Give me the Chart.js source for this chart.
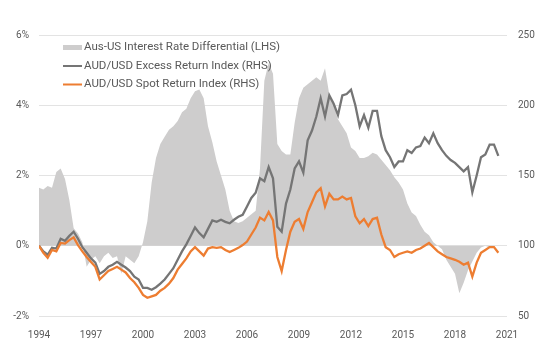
<!DOCTYPE html>
<html lang="en">
<head>
    <meta charset="UTF-8">
    <title>AUD/USD carry</title>
    <script src="https://cdn.jsdelivr.net/npm/chart.js"></script>
    <style>
        html, body { margin: 0; padding: 0; background: #fff; }
    </style>
</head>
<body>
    <canvas id="audChart" width="555" height="354"></canvas>

    <script>
        // quarterly dates (decimal years)
        const dates = [
            1994.00, 1994.25, 1994.50, 1994.75, 1995.00, 1995.25, 1995.50, 1995.75,
            1996.00, 1996.25, 1996.50, 1996.75, 1997.00, 1997.25, 1997.50, 1997.75,
            1998.00, 1998.25, 1998.50, 1998.75, 1999.00, 1999.25, 1999.50, 1999.75,
            2000.00, 2000.25, 2000.50, 2000.75, 2001.00, 2001.25, 2001.50, 2001.75,
            2002.00, 2002.25, 2002.50, 2002.75, 2003.00, 2003.25, 2003.50, 2003.75,
            2004.00, 2004.25, 2004.50, 2004.75, 2005.00, 2005.25, 2005.50, 2005.75,
            2006.00, 2006.25, 2006.50, 2006.75, 2007.00, 2007.25, 2007.50, 2007.75,
            2008.00, 2008.25, 2008.50, 2008.75, 2009.00, 2009.25, 2009.50, 2009.75,
            2010.00, 2010.25, 2010.50, 2010.75, 2011.00, 2011.25, 2011.50, 2011.75,
            2012.00, 2012.25, 2012.50, 2012.75, 2013.00, 2013.25, 2013.50, 2013.75,
            2014.00, 2014.25, 2014.50, 2014.75, 2015.00, 2015.25, 2015.50, 2015.75,
            2016.00, 2016.25, 2016.50, 2016.75, 2017.00, 2017.25, 2017.50, 2017.75,
            2018.00, 2018.25, 2018.50, 2018.75, 2019.00, 2019.25, 2019.50, 2019.75,
            2020.00, 2020.25, 2020.50
        ];

        // Aus-US interest rate differential, % (LHS)
        const rateDiff = [
            1.65, 1.6, 1.7, 1.65, 2.1, 2.2, 1.9, 1.3,
            0.5, 0.35, 0.1, -0.6, -0.4, -0.3, -0.5, -0.3,
            -0.2, -0.35, -0.3, -0.8, -0.3, -0.4, -0.5, -0.3,
            0.1, 0.7, 1.8, 2.5, 2.9, 3.1, 3.3, 3.4,
            3.55, 3.8, 3.9, 4.2, 4.4, 4.45, 4.2, 3.4,
            2.95, 2.4, 2.0, 1.6, 1.0, 0.7, 0.65, 0.7,
            0.8, 0.9, 1.0, 2.2, 4.7, 5.2, 4.9, 2.9,
            2.7, 2.6, 2.6, 3.5, 4.2, 4.5, 4.6, 4.7,
            4.8, 4.7, 5.05, 4.3, 4.0, 3.6, 3.4, 3.2,
            2.8, 2.7, 2.5, 2.5, 2.55, 2.65, 2.6, 2.45,
            2.3, 2.15, 1.95, 1.8, 1.6, 1.2, 0.95, 0.85,
            0.6, 0.4, 0.3, 0.1, 0.0, -0.1, -0.4, -0.6,
            -0.8, -1.35, -1.05, -0.7, -0.45, -0.2, -0.05, 0.0,
            -0.05, 0.0, 0.0
        ];

        // AUD/USD excess return index (RHS)
        const excessReturn = [
            100, 96, 93.6, 98.5, 98, 105, 103.5, 107,
            110, 105, 99, 95, 91, 88, 80, 82,
            85, 86.5, 88.6, 86.5, 84.5, 82, 78, 76,
            70, 70, 68.7, 70.5, 73, 76, 80, 84,
            90, 96, 101, 107, 113, 109, 106, 112,
            118, 117, 118.5, 117, 116, 118.5, 120.6, 122,
            128, 134, 137.7, 148, 146, 156, 148, 113.5,
            110, 130, 140, 155, 160, 152, 175, 182,
            192, 205, 192, 207, 201, 193, 207, 208,
            211, 200, 185, 193, 184, 196, 196, 178,
            168, 163, 156, 160, 160, 168, 166, 170,
            171, 177, 173, 180, 173, 168, 164, 161,
            159, 156, 153, 156, 138, 150, 163, 165,
            172, 172, 164
        ];

        // AUD/USD spot return index (RHS)
        const spotReturn = [
            100, 95, 91.5, 97, 96, 102, 101.5, 104,
            106, 100.5, 96, 92, 88.5, 85, 76, 79,
            82, 83.5, 85, 83, 81, 77, 74, 70,
            65, 63, 64, 65, 68, 70, 73, 77,
            83, 87, 91, 96, 99, 96, 93, 98,
            99, 98.5, 99, 97, 95.5, 97, 98.5, 100.5,
            103, 108, 113, 120, 118, 124, 118, 92,
            82, 97, 110, 117, 119, 112, 124, 131,
            138, 141, 128, 137, 133, 133, 135, 133,
            134, 121, 116, 119, 114, 119, 120, 108,
            99, 97, 92, 94, 95, 96, 95, 97,
            98, 100, 102, 99, 96, 94, 92, 91,
            90, 88.6, 86.5, 88, 78, 88, 95, 97,
            99, 99, 95
        ];

        const yearTicks = [1994, 1997, 2000, 2003, 2006, 2009, 2012, 2015, 2018, 2021];

        const textColor = '#595959';
        const fontFamily = 'Roboto, "Liberation Sans", sans-serif';

        const toPoints = vals => vals.map((v, i) => ({ x: dates[i], y: v }));

        // legend drawn inside the plot, three rows at top left
        const insideLegend = {
            id: 'insideLegend',
            afterDraw(chart) {
                const ctx = chart.ctx;
                const x0 = 63, rowY = [47.5, 66, 84.5];
                ctx.save();
                ctx.font = '11.5px ' + fontFamily;
                ctx.textBaseline = 'middle';
                chart.data.datasets.forEach((ds, row) => {
                    const y = rowY[row];
                    if (ds.fill) {
                        ctx.fillStyle = ds.backgroundColor;
                        ctx.fillRect(x0, y - 2.5, 19, 5);
                    } else {
                        ctx.strokeStyle = ds.borderColor;
                        ctx.lineWidth = 2;
                        ctx.beginPath();
                        ctx.moveTo(x0, y);
                        ctx.lineTo(x0 + 19, y);
                        ctx.stroke();
                    }
                    ctx.fillStyle = textColor;
                    ctx.fillText(ds.label, x0 + 21, y);
                });
                ctx.restore();
            }
        };

        new Chart(document.getElementById('audChart').getContext('2d'), {
            type: 'line',
            data: {
                datasets: [
                    {
                        label: 'Aus-US Interest Rate Differential (LHS)',
                        data: toPoints(rateDiff),
                        yAxisID: 'y',
                        backgroundColor: '#cecdcd',
                        borderWidth: 0,
                        fill: 'origin',
                        pointRadius: 0,
                        order: 3
                    },
                    {
                        label: 'AUD/USD Excess Return Index (RHS)',
                        data: toPoints(excessReturn),
                        yAxisID: 'y1',
                        borderColor: '#757575',
                        borderWidth: 2.3,
                        fill: false,
                        pointRadius: 0,
                        order: 2
                    },
                    {
                        label: 'AUD/USD Spot Return Index (RHS)',
                        data: toPoints(spotReturn),
                        yAxisID: 'y1',
                        borderColor: '#ed7d31',
                        borderWidth: 2.3,
                        fill: false,
                        pointRadius: 0,
                        order: 1
                    }
                ]
            },
            options: {
                responsive: false,
                animation: false,
                layout: { padding: { top: 35, left: 0, right: 0, bottom: 0 } },
                plugins: {
                    legend: { display: false },
                    tooltip: { enabled: false }
                },
                scales: {
                    x: {
                        type: 'linear',
                        min: 1994,
                        max: 2021,
                        afterBuildTicks: axis => { axis.ticks = yearTicks.map(v => ({ value: v })); },
                        afterFit: axis => { axis.height = 38; },
                        grid: { display: false, drawTicks: false },
                        border: { display: false },
                        ticks: {
                            padding: 13,
                            color: textColor,
                            font: { family: fontFamily, size: 10 },
                            maxRotation: 0,
                            callback: v => String(v)
                        }
                    },
                    y: {
                        position: 'left',
                        min: -2,
                        max: 6,
                        afterFit: axis => { axis.width = 39; },
                        grid: { color: '#e3e3e3', lineWidth: 1, drawTicks: false },
                        border: { display: false },
                        ticks: {
                            stepSize: 2,
                            padding: 10,
                            color: textColor,
                            font: { family: fontFamily, size: 10 },
                            callback: v => v + '%'
                        }
                    },
                    y1: {
                        position: 'right',
                        min: 50,
                        max: 250,
                        afterFit: axis => { axis.width = 48; },
                        grid: { display: false, drawTicks: false },
                        border: { display: false },
                        ticks: {
                            stepSize: 50,
                            padding: 11,
                            color: textColor,
                            font: { family: fontFamily, size: 10 }
                        }
                    }
                }
            },
            plugins: [insideLegend]
        });
    </script>
</body>
</html>
